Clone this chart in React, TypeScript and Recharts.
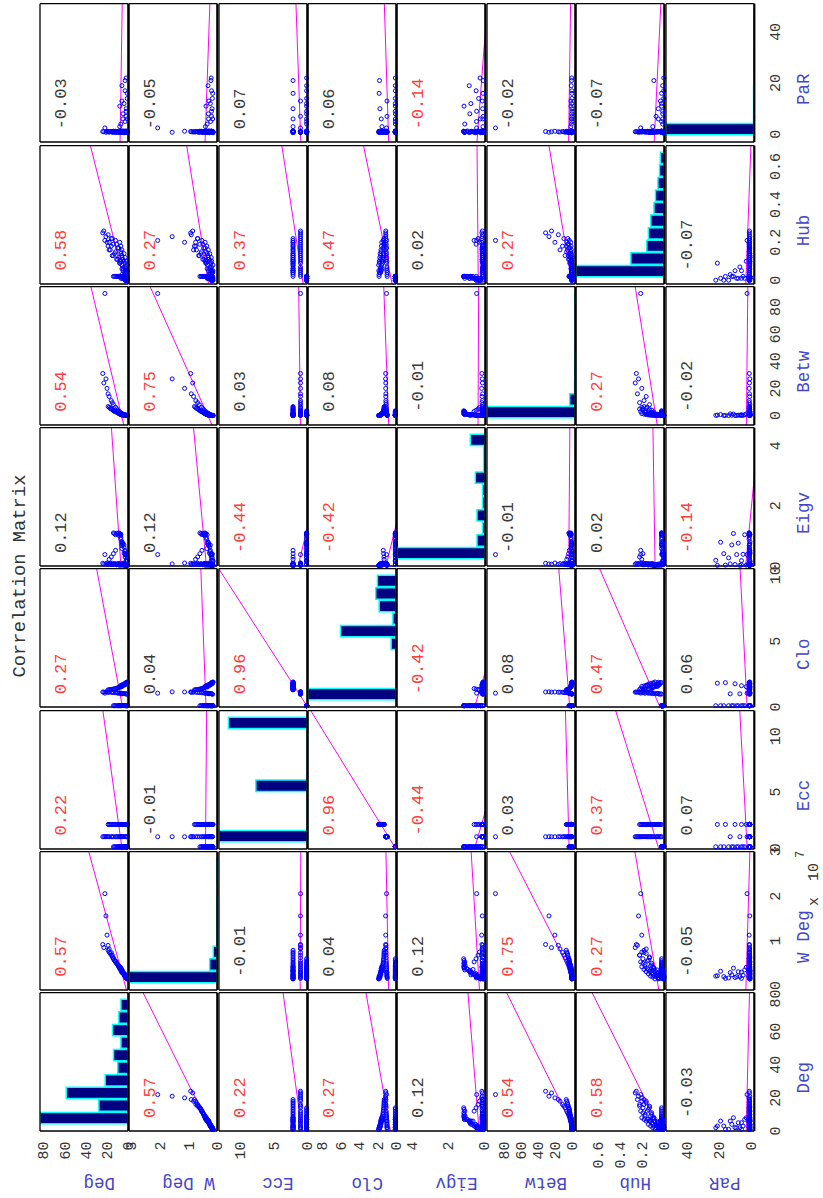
import React from 'react';
import { ComposedChart, XAxis, YAxis, Scatter, Bar, ReferenceLine } from 'recharts';

const FONT = "'Liberation Mono', 'Courier New', monospace";
const LABEL_BLUE = '#4646c8';
const RED = '#ff3c3c';
const DARK = '#3a3a3a';

// ---------- variables ----------
const varNames = ['Deg', 'W Deg', 'Ecc', 'Clo', 'Eigv', 'Betw', 'Hub', 'PaR'];

// ---------- node values ----------
const deg = [
  1, 1, 1, 1, 1, 2, 2, 2, 2, 2, 2, 3, 3, 3, 3, 3, 3, 4, 4, 4, 5, 5, 6, 6, 6, 6, 6, 7, 7, 7, 7, 8, 8, 9, 9, 10, 11, 12, 13, 14,
  1, 2, 2, 3, 4, 5, 6, 6, 7, 8, 9, 10, 11, 12, 14, 15, 16, 18, 19, 20, 21, 22, 23, 24,
  1, 1, 1, 2, 2, 2, 2, 3, 3, 3, 3, 4, 4, 5, 5, 6, 6, 6, 6, 7, 7, 7, 8, 8, 9, 10, 11, 12, 13, 14, 15, 16, 17, 18, 19, 8,
];
// weighted degree, in units of 10^7
const wDegE7 = [
  0.15, 0.16, 0.15, 0.17, 0.15, 0.18, 0.2, 0.17, 0.19, 0.21, 0.18, 0.22, 0.2, 0.24, 0.21, 0.23, 0.25, 0.26, 0.24, 0.27,
  0.29, 0.31, 0.3, 0.34, 0.32, 0.36, 0.33, 0.38, 0.35, 0.4, 0.37, 0.42, 0.39, 0.45, 0.43, 0.48, 0.5, 0.53, 0.56, 0.6,
  0.16, 0.18, 0.2, 0.22, 0.25, 0.28, 0.31, 0.29, 0.35, 0.38, 0.42, 0.46, 0.5, 0.55, 0.62, 0.68, 0.74, 0.82, 0.9, 1.13, 1.56, 2.06, 0.85, 0.92,
  0.15, 0.16, 0.15, 0.17, 0.19, 0.18, 0.2, 0.21, 0.23, 0.22, 0.24, 0.26, 0.25, 0.28, 0.3, 0.31, 0.33, 0.32, 0.35, 0.36,
  0.34, 0.38, 0.4, 0.42, 0.44, 0.47, 0.5, 0.53, 0.57, 0.6, 0.64, 0.68, 0.72, 0.75, 0.79, 0.41,
];
const ecc = [
  0.1, 0.1, 0.1, 0.1, 0.1, 0.1, 0.1, 0.1, 0.1, 0.1, 0.1, 0.1, 0.1, 0.1, 0.1, 0.1, 0.1, 0.1, 0.1, 0.1,
  0.1, 0.1, 0.1, 0.1, 0.1, 0.1, 0.1, 0.1, 0.1, 0.1, 0.1, 0.1, 0.1, 0.1, 0.1, 0.1, 0.1, 0.1, 0.1, 0.1,
  1.0, 1.0, 1.0, 1.0, 1.0, 1.0, 1.0, 1.0, 1.0, 1.0, 1.0, 1.0, 1.0, 1.0, 1.0, 1.0, 1.0, 1.0, 1.0, 1.0, 1.0, 1.0, 1.0, 1.0,
  2.1, 2.1, 2.1, 2.1, 2.1, 2.1, 2.1, 2.1, 2.1, 2.1, 2.1, 2.1, 2.1, 2.1, 2.1, 2.1, 2.1, 2.1,
  2.1, 2.1, 2.1, 2.1, 2.1, 2.1, 2.1, 2.1, 2.1, 2.1, 2.1, 2.1, 2.1, 2.1, 2.1, 2.1, 2.1, 2.1,
];
const clo = [
  0.1, 0.1, 0.1, 0.1, 0.1, 0.1, 0.1, 0.1, 0.1, 0.1, 0.1, 0.1, 0.1, 0.1, 0.1, 0.1, 0.1, 0.1, 0.1, 0.1,
  0.1, 0.1, 0.1, 0.1, 0.1, 0.1, 0.1, 0.1, 0.1, 0.1, 0.1, 0.1, 0.1, 0.1, 0.1, 0.1, 0.1, 0.1, 0.1, 0.1,
  0.97, 0.98, 1.0, 1.02, 1.01, 1.03, 1.04, 1.0, 1.05, 1.06, 1.04, 1.07, 1.08, 1.09, 1.1, 1.11, 1.12, 1.13, 1.12, 1.14, 1.15, 1.05, 1.13, 1.14,
  1.88, 1.85, 1.9, 1.8, 1.83, 1.76, 1.86, 1.78, 1.72, 1.81, 1.69, 1.74, 1.66, 1.7, 1.62, 1.65, 1.58, 1.68,
  1.55, 1.6, 1.52, 1.63, 1.5, 1.57, 1.48, 1.45, 1.42, 1.4, 1.38, 1.36, 1.34, 1.33, 1.32, 1.31, 1.3, 1.54,
];
const eigv = [
  0.16, 0.18, 0.05, 0.27, 0.15, 0.17, 0.38, 0.4, 0.36, 0.19, 0.06, 0.37, 0.41, 0.52, 0.3, 0.39, 0.48, 0.62, 0.7, 0.43,
  0.72, 0.76, 0.68, 0.74, 0.79, 0.58, 0.81, 0.95, 1.04, 1.06, 0.89, 1.05, 1.08, 1.02, 1.1, 1.07, 1.09, 1.04, 1.08, 1.1,
  0.03, 0.04, 0.02, 0.05, 0.03, 0.06, 0.04, 0.07, 0.05, 0.03, 0.08, 0.06, 0.04, 0.07, 0.05, 0.09, 0.06, 0.08, 0.05, 0.1, 0.07, 0.38, 0.06, 0.09,
  0.02, 0.03, 0.01, 0.04, 0.02, 0.05, 0.03, 0.06, 0.04, 0.02, 0.07, 0.03, 0.05, 0.08, 0.04, 0.06, 0.03, 0.07,
  0.05, 0.04, 0.08, 0.06, 0.05, 0.09, 0.04, 0.07, 0.06, 0.52, 0.08, 0.41, 0.05, 0.3, 0.07, 0.22, 0.06, 0.03,
];
const betw = [
  0, 0, 0, 0, 0, 0, 0, 0, 0, 0.1, 0, 0.2, 0, 0.3, 0, 0.1, 0.2, 0.4, 0.2, 0.5,
  0.6, 0.3, 0.8, 0.5, 0.7, 0.9, 0.4, 1.0, 0.6, 1.2, 0.8, 1.5, 1.1, 1.8, 1.4, 2.2, 2.5, 2.8, 3.1, 3.5,
  0, 0.1, 0.2, 0.4, 0.6, 1.0, 1.5, 1.2, 2.0, 2.6, 3.3, 4.0, 5.0, 6.2, 8.0, 9.5, 11, 14, 16, 20, 27, 90, 24, 31,
  0, 0, 0, 0, 0.1, 0, 0.1, 0.2, 0.1, 0.3, 0.2, 0.4, 0.3, 0.5, 0.6, 0.7, 0.8, 0.6,
  0.9, 1.0, 1.1, 1.3, 1.5, 1.4, 1.8, 2.1, 2.5, 3.0, 3.4, 3.9, 4.3, 4.8, 5.3, 6.0, 6.6, 1.2,
];
const hub = [
  0.0, 0.01, 0.0, 0.0, 0.01, 0.0, 0.01, 0.0, 0.01, 0.0, 0.01, 0.01, 0.0, 0.01, 0.0, 0.02, 0.01, 0.01, 0.02, 0.01,
  0.02, 0.01, 0.02, 0.02, 0.01, 0.02, 0.02, 0.02, 0.01, 0.02, 0.02, 0.02, 0.02, 0.02, 0.02, 0.02, 0.02, 0.02, 0.02, 0.02,
  0.04, 0.02, 0.07, 0.05, 0.1, 0.06, 0.12, 0.03, 0.14, 0.09, 0.17, 0.11, 0.19, 0.15, 0.13, 0.22, 0.18, 0.16, 0.24, 0.2, 0.23, 0.21, 0.26, 0.25,
  0.05, 0.02, 0.08, 0.04, 0.1, 0.05, 0.03, 0.12, 0.06, 0.09, 0.04, 0.14, 0.07, 0.11, 0.05, 0.16, 0.08, 0.13,
  0.06, 0.18, 0.1, 0.15, 0.09, 0.2, 0.12, 0.17, 0.11, 0.21, 0.14, 0.19, 0.13, 0.22, 0.16, 0.2, 0.18, 0.1,
];
const par = [
  0.8, 6, 1.0, 14, 0.6, 1.2, 9, 0.9, 1.1, 22, 0.7, 1.0, 17, 0.8, 1.3, 5, 0.9, 1.1, 12, 0.6,
  1.0, 8, 1.2, 0.8, 19, 1.0, 0.7, 1.1, 4, 0.9, 1.3, 0.8, 11, 1.0, 1.2, 0.9, 1.1, 0.7, 1.0, 1.2,
  1.0, 0.8, 7, 1.1, 0.9, 1.2, 0.7, 13, 1.0, 0.8, 1.1, 0.9, 1.0, 1.2, 0.8, 1.0, 1.1, 0.9, 1.0, 1.2, 0.8, 2.5, 1.0, 1.1,
  1.0, 16, 0.8, 1.1, 0.9, 10, 1.2, 0.7, 1.0, 21, 1.1, 0.8, 1.0, 1.3, 6, 0.9, 1.0, 1.2,
  0.8, 1.1, 0.7, 1.0, 0.9, 1.2, 1.0, 0.8, 1.1, 0.9, 1.0, 1.2, 0.8, 1.0, 1.1, 0.9, 1.0, 3,
];

// ---------- correlation coefficients printed in the panels ----------
const corrDeg = [1, 0.57, 0.22, 0.27, 0.12, 0.54, 0.58, -0.03];
const corrWDeg = [0.57, 1, -0.01, 0.04, 0.12, 0.75, 0.27, -0.05];
const corrEcc = [0.22, -0.01, 1, 0.96, -0.44, 0.03, 0.37, 0.07];
const corrClo = [0.27, 0.04, 0.96, 1, -0.42, 0.08, 0.47, 0.06];
const corrEigv = [0.12, 0.12, -0.44, -0.42, 1, -0.01, 0.02, -0.14];
const corrBetw = [0.54, 0.75, 0.03, 0.08, -0.01, 1, 0.27, -0.02];
const corrHub = [0.58, 0.27, 0.37, 0.47, 0.02, 0.27, 1, -0.07];
const corrPaR = [-0.03, -0.05, 0.07, 0.06, -0.14, -0.02, -0.07, 1];

// ---------- diagonal histograms (10 bins each) ----------
const histBins = [0.5, 1.5, 2.5, 3.5, 4.5, 5.5, 6.5, 7.5, 8.5, 9.5];
const histDeg = [84, 28, 59, 22, 10, 14, 7, 15, 9, 7];
const histWDeg = [220, 19, 10, 1, 1, 1, 1, 0, 1, 1];
const histEcc = [103, 0, 0, 0, 60, 0, 0, 0, 0, 92];
const histClo = [103, 0, 0, 0, 6, 65, 4, 20, 24, 22];
const histEigv = [160, 15, 5, 15, 5, 5, 18, 3, 3, 27];
const histBetw = [235, 15, 2, 1, 1, 0, 0, 0, 0, 1];
const histHub = [111, 42, 22, 20, 17, 13, 11, 8, 6, 5];
const histPaR = [243, 2, 2, 2, 1, 1, 1, 1, 1, 1];

// ---------- axis ranges and tick labels ----------
const colDomains: [number, number][] = [[0, 83.5], [-0.1, 3.0], [-0.1, 12.3], [0, 10.5], [0, 4.6], [-7, 95], [-0.02, 0.71], [-3, 51]];
const rowDomains: [number, number][] = [[0, 83], [0, 3.05], [0, 13], [0, 9.5], [-0.1, 4.8], [-4, 100], [-0.005, 0.8], [-2, 53]];
const colTicks = [[0, 20, 40, 60, 80], [0, 1, 2, 3], [0, 5, 10], [0, 5, 10], [0, 2, 4], [0, 20, 40, 60, 80], [0, 0.2, 0.4, 0.6], [0, 20, 40]];
const rowTicks = [[0, 20, 40, 60, 80], [0, 1, 2, 3], [0, 5, 10], [0, 2, 4, 6, 8], [0, 2, 4], [0, 20, 40, 60, 80], [0, 0.2, 0.4, 0.6], [0, 20, 40]];

const series = [deg, wDegE7, ecc, clo, eigv, betw, hub, par];
const corr = [corrDeg, corrWDeg, corrEcc, corrClo, corrEigv, corrBetw, corrHub, corrPaR];
const hists = [histDeg, histWDeg, histEcc, histClo, histEigv, histBetw, histHub, histPaR];

const mean = (a: number[]) => a.reduce((s, v) => s + v, 0) / a.length;
const std = (a: number[]) => {
  const m = mean(a);
  return Math.sqrt(a.reduce((s, v) => s + (v - m) * (v - m), 0) / (a.length - 1));
};
const means = series.map(mean);
const sds = series.map(std);

// ---------- layout (un-rotated figure frame) ----------
const FIG_W = 1198;
const FIG_H = 823;
const COL0 = 67;
const COL_PITCH = 141.24;
const PW = 138.3;
const ROW0 = 40;
const ROW_PITCH = 89.36;
const PH = 88.3;
const LW = 60;
const BH = 40;

const fmtTick = (v: number) => String(Math.round(v * 100) / 100);

const XTickLabel = (p: any) => (
  <text x={p.x} y={p.y + 25.5} textAnchor="middle" fontSize={15} fontFamily={FONT} fill="#333">
    {fmtTick(p.payload.value)}
  </text>
);
const YTickLabel = (p: any) => (
  <text x={p.x - 10.5} y={p.y + 5.2} textAnchor="end" fontSize={15} fontFamily={FONT} fill="#333">
    {fmtTick(p.payload.value)}
  </text>
);
const Dot = (p: any) => <circle cx={p.cx} cy={p.cy} r={2} fill="none" stroke="#0000ff" strokeWidth={1} />;

function Panel({ r, c }: { r: number; c: number }) {
  const isDiag = r === c;
  const isLeft = c === 0;
  const isBottom = r === 7;
  const extraL = isLeft ? LW : 0;
  const extraB = isBottom ? BH : 0;
  const w = PW + extraL;
  const h = PH + extraB;
  const xd = colDomains[c];
  const yd = rowDomains[r];
  const boxLine = { stroke: '#000', strokeWidth: 1.3 };
  const tl = { stroke: '#000', strokeWidth: 1 };
  const pts = isDiag ? [] : series[c].map((x, i) => ({ x, y: series[r][i] }));
  let seg: { x: number; y: number }[] | null = null;
  if (!isDiag) {
    const b = (corr[r][c] * sds[r]) / sds[c];
    const a = means[r] - b * means[c];
    seg = [
      { x: xd[0], y: a + b * xd[0] },
      { x: xd[1], y: a + b * xd[1] },
    ];
  }
  const hist = hists[c];
  const hmax = Math.max(...hist);
  const histData = isDiag ? histBins.map((bin, k) => ({ bin, count: hist[k] })) : undefined;
  return (
    <div style={{ position: 'absolute', left: COL0 + c * COL_PITCH - extraL, top: ROW0 + r * ROW_PITCH, width: w, height: h }}>
      <ComposedChart width={w} height={h} data={histData} margin={{ top: 0, right: 0, bottom: 0, left: 0 }}
        barCategoryGap={0} barGap={0}>
        {isBottom && (
          <XAxis xAxisId="lab" type="number" dataKey="x" domain={xd} allowDataOverflow ticks={colTicks[c]} interval={0}
            orientation="bottom" height={BH} axisLine={false} tickLine={false} tickSize={0} tickMargin={0} tick={XTickLabel} />
        )}
        {isLeft && (
          <YAxis yAxisId="lab" type="number" dataKey="y" domain={yd} allowDataOverflow ticks={rowTicks[r]} interval={0}
            orientation="left" width={LW} axisLine={false} tickLine={false} tickSize={0} tickMargin={0} tick={YTickLabel} />
        )}
        {isDiag && (
          <XAxis xAxisId="hx" type="number" dataKey="bin" domain={[-0.5, 10.5]} allowDataOverflow orientation="top" mirror
            height={0} ticks={histBins} axisLine={false} tickLine={false} tick={false} />
        )}
        {isDiag && (
          <YAxis yAxisId="hy" type="number" dataKey="count" domain={[0, hmax]} allowDataOverflow orientation="right" mirror width={0}
            axisLine={false} tickLine={false} tick={false} />
        )}
        {isDiag && (
          <ReferenceLine xAxisId="hx" yAxisId="hy" segment={[{ x: 0, y: 0 }, { x: 10, y: 0 }]} stroke="#00ffff" strokeWidth={1.5} ifOverflow="visible" />
        )}
        {isDiag && (
          <Bar xAxisId="hx" yAxisId="hy" dataKey="count" barSize={PW / 11} fill="#000080" stroke="#00ffff" strokeWidth={1.5}
            isAnimationActive={false} />
        )}
        {!isDiag && <Scatter xAxisId="b" yAxisId="l" data={pts} shape={Dot} isAnimationActive={false} />}
        {seg && <ReferenceLine xAxisId="b" yAxisId="l" segment={seg} stroke="#ff00ff" strokeWidth={1} ifOverflow="hidden" />}
        <XAxis xAxisId="b" type="number" dataKey="x" domain={xd} allowDataOverflow={isDiag} ticks={colTicks[c]} interval={0}
          orientation="bottom" mirror tick={false} tickSize={3} tickLine={tl} axisLine={{ stroke: '#000', strokeWidth: 2.2 }} />
        <XAxis xAxisId="t" type="number" dataKey="x" domain={xd} allowDataOverflow ticks={colTicks[c]} interval={0}
          orientation="top" mirror tick={false} tickSize={3} tickLine={tl} axisLine={boxLine} />
        <YAxis yAxisId="l" type="number" dataKey="y" domain={yd} allowDataOverflow={isDiag} ticks={rowTicks[r]} interval={0}
          orientation="left" mirror tick={false} tickSize={3} tickLine={tl} axisLine={boxLine} />
        <YAxis yAxisId="r" type="number" dataKey="y" domain={yd} allowDataOverflow ticks={rowTicks[r]} interval={0}
          orientation="right" mirror tick={false} tickSize={3} tickLine={tl} axisLine={boxLine} />
      </ComposedChart>
    </div>
  );
}

export default function App() {
  const cells: React.ReactNode[] = [];
  for (let r = 0; r < 8; r++) for (let c = 0; c < 8; c++) cells.push(<Panel key={`${r}-${c}`} r={r} c={c} />);
  const corrTexts: React.ReactNode[] = [];
  for (let r = 0; r < 8; r++)
    for (let c = 0; c < 8; c++) {
      if (r === c) continue;
      const v = corr[r][c];
      corrTexts.push(
        <text key={`t${r}-${c}`} x={COL0 + c * COL_PITCH + 13} y={ROW0 + r * ROW_PITCH + 26} fontSize={17} fontFamily={FONT}
          fill={Math.abs(v) > 0.13 ? RED : DARK}>
          {v.toFixed(2)}
        </text>,
      );
    }
  return (
    <div style={{ position: 'absolute', left: 0, top: 0, width: 823, height: 1198, overflow: 'hidden', background: '#fff' }}>
      <style>{`.recharts-surface{overflow:visible}`}</style>
      <div style={{ position: 'absolute', left: 0, top: 0, width: FIG_W, height: FIG_H, transformOrigin: '0 0', transform: `translateY(${FIG_W}px) rotate(-90deg)` }}>
        {cells}
        <svg width={FIG_W} height={FIG_H} style={{ position: 'absolute', left: 0, top: 0, pointerEvents: 'none', overflow: 'visible' }}>
          <text x={622} y={25} textAnchor="middle" fontSize={18.8} fontFamily={FONT} fill="#333">Correlation Matrix</text>
          {varNames.map((n, c) => (
            <text key={`xl${c}`} x={COL0 + c * COL_PITCH + PW / 2 - 16} y={809} textAnchor="middle" fontSize={17.5} fontFamily={FONT} fill={LABEL_BLUE}>{n}</text>
          ))}
          {varNames.map((n, r) => (
            <text key={`yl${r}`} transform={`translate(20.5 ${ROW0 + r * ROW_PITCH + PH / 2 + 15}) rotate(-90)`} textAnchor="middle" fontSize={17.5} fontFamily={FONT} fill={LABEL_BLUE}>{n}</text>
          ))}
          <text x={292} y={818} fontSize={15} fontFamily={FONT} fill="#333">x</text>
          <text x={317} y={818} fontSize={15} fontFamily={FONT} fill="#333">10</text>
          <text x={340} y={804} fontSize={12} fontFamily={FONT} fill="#333">7</text>
          {corrTexts}
        </svg>
      </div>
    </div>
  );
}
